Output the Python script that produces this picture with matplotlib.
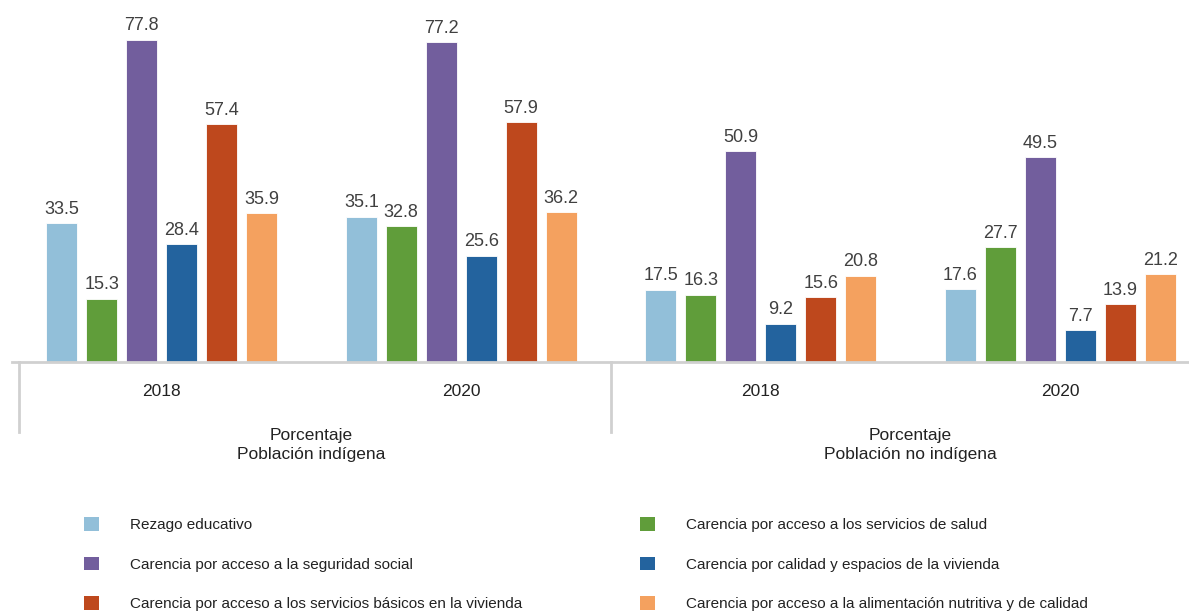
from matplotlib import pyplot as plt
from matplotlib.patches import Patch
import numpy as np

# Data
groups = ['2018', '2020', '2018', '2020']
populations = ['Porcentaje\nPoblación indígena', 'Porcentaje\nPoblación no indígena']
series_names = ['Rezago educativo',
                'Carencia por acceso a los servicios de salud',
                'Carencia por acceso a la seguridad social',
                'Carencia por calidad y espacios de la vivienda',
                'Carencia por acceso a los servicios básicos en la vivienda',
                'Carencia por acceso a la alimentación nutritiva y de calidad']
rezago = [33.5, 35.1, 17.5, 17.6]
salud = [15.3, 32.8, 16.3, 27.7]
seguridad = [77.8, 77.2, 50.9, 49.5]
vivienda = [28.4, 25.6, 9.2, 7.7]
basicos = [57.4, 57.9, 15.6, 13.9]
alimentacion = [35.9, 36.2, 20.8, 21.2]
colors = ['#92BFD9', '#609D3A', '#725E9D', '#23639E', '#BE481D', '#F4A15F']

series = [rezago, salud, seguridad, vivienda, basicos, alimentacion]

W, H = 1189, 614
fig = plt.figure(figsize=(W / 100, H / 100), dpi=100)
plt.rcParams['font.family'] = ['Liberation Sans', 'DejaVu Sans']

# axes spans x 12..1210 px, y 0..362 px (baseline at 362)
ax_left, ax_right = 12, 1210
base_y = 362
ax = fig.add_axes([ax_left / W, 1 - base_y / H, (ax_right - ax_left) / W, base_y / H])
x = np.arange(len(groups))
width = 0.104
step = 0.1335
for i, (vals, col, name) in enumerate(zip(series, colors, series_names)):
    bars = ax.bar(x + (i - 2.5) * step, vals, width, color=col, label=name,
                  edgecolor='white', linewidth=0.6)
    for b, v in zip(bars, vals):
        ax.annotate('{:.1f}'.format(v), (b.get_x() + b.get_width() / 2, v),
                    xytext=(0, 4), textcoords='offset points',
                    ha='center', va='bottom', fontsize=13, color='#404040')

ax.set_xlim(-0.5, 3.5)
ax.set_ylim(0, base_y / 4.14)
ax.set_yticks([])
ax.set_xticks([])
for s in ['top', 'right', 'left']:
    ax.spines[s].set_visible(False)
ax.spines['bottom'].set_color('#d0d0d0')
ax.spines['bottom'].set_linewidth(2)

# separators below axis
gray = '#d0d0d0'
for xp in [-0.475, 1.5, 3.5]:
    ax.plot([xp, xp], [0, -70 / 4.14], color=gray, lw=2, clip_on=False)

# year labels
for xi, g in zip(x, groups):
    ax.text(xi, -29 / 4.14, g, ha='center', va='center', fontsize=12.5,
            color='#222222')
for xc, p in zip([0.5, 2.5], populations):
    ax.text(xc, -83 / 4.14, p, ha='center', va='center', fontsize=12.5,
            color='#222222', linespacing=1.35)

# legend, two columns with row order as in reference
handles = [Patch(facecolor=c) for c in colors]
for col, x0 in zip([0, 1], [84, 640]):
    idx = [col, col + 2, col + 4]
    fig.legend([handles[k] for k in idx], [series_names[k] for k in idx],
               loc='upper left', bbox_to_anchor=(x0 / W, 1 - 517 / H),
               frameon=False, fontsize=11,
               handlelength=1.0, handleheight=1.0,
               handletextpad=2.0, labelspacing=1.6, borderpad=0, borderaxespad=0,
               labelcolor='#222222')

fig.savefig('out.png', dpi=100)
